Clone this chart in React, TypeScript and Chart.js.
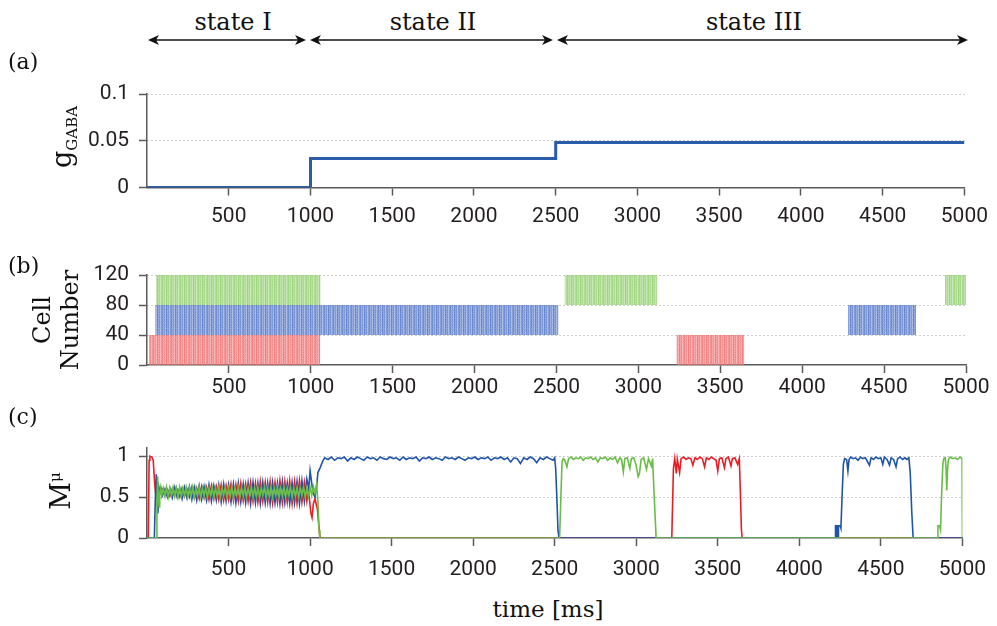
import React, { useEffect, useRef } from "react";
import { Chart, registerables } from "chart.js";

Chart.register(...registerables);

// ---------------- DATA ----------------
const xTicks = [500, 1000, 1500, 2000, 2500, 3000, 3500, 4000, 4500, 5000];
const gabaTicks = [0, 0.05, 0.1];
const cellTicks = [0, 40, 80, 120];
const mTicks = [0, 0.5, 1];

// (a) g_GABA step values
const gabaSteps: [number, number][] = [
  [0, 0], [1000, 0], [1000, 0.031], [2500, 0.031], [2500, 0.048], [5000, 0.048],
];

// (b) spike raster windows [start, end] ms per population, and cell index ranges
const redCells = [0, 40];
const blueCells = [40, 80];
const greenCells = [80, 120];
const redSpikeWindows: [number, number][] = [[12, 1058], [3232, 3646]];
const blueSpikeWindows: [number, number][] = [[50, 2512], [4280, 4695]];
const greenSpikeWindows: [number, number][] = [[55, 1060], [2549, 3116], [4872, 5000]];

// (c) M^mu order parameters [t, value]
const redM: [number, number][] = [
  [0, 0], [8, 0], [13, 0.95], [18, 1.0], [30, 0.99], [38, 0.95], [46, 0.7], [52, 0.55], [58, 0.72], [64, 0.6], [70, 0.52], [80, 0.6],
  [95, 0.6], [110, 0.52], [125, 0.59], [140, 0.51], [155, 0.6], [170, 0.52], [185, 0.59], [200, 0.5], [215, 0.61], [230, 0.51],
  [245, 0.6], [260, 0.5], [275, 0.62], [290, 0.49], [305, 0.61], [320, 0.48], [335, 0.63], [350, 0.49], [365, 0.62], [380, 0.47],
  [395, 0.64], [410, 0.48], [425, 0.63], [440, 0.47], [455, 0.65], [470, 0.46], [485, 0.64], [500, 0.47], [515, 0.66], [530, 0.46],
  [545, 0.65], [560, 0.45], [575, 0.67], [590, 0.46], [605, 0.66], [620, 0.45], [635, 0.68], [650, 0.45], [665, 0.67], [680, 0.44],
  [695, 0.69], [710, 0.45], [725, 0.68], [740, 0.44], [755, 0.69], [770, 0.43], [785, 0.68], [800, 0.44], [815, 0.7], [830, 0.43],
  [845, 0.69], [860, 0.44], [875, 0.7], [890, 0.42], [905, 0.69], [920, 0.43], [935, 0.7], [950, 0.44], [965, 0.68], [980, 0.45],
  [990, 0.6], [1005, 0.3], [1012, 0.25], [1020, 0.42], [1030, 0.48], [1045, 0.35], [1058, 0.05], [1064, 0],
  [3218, 0], [3228, 0.85], [3236, 0.97], [3246, 0.79], [3252, 0.96], [3266, 0.8], [3275, 0.97], [3290, 0.99], [3305, 0.96],
  [3320, 0.98], [3335, 0.97], [3347, 0.89], [3360, 0.98], [3375, 0.96], [3390, 0.99], [3405, 0.97], [3419, 0.87], [3430, 0.98],
  [3445, 0.96], [3460, 0.99], [3475, 0.97], [3490, 0.95], [3500, 0.82], [3510, 0.97], [3525, 0.98], [3541, 0.86], [3550, 0.97],
  [3565, 0.99], [3581, 0.88], [3590, 0.97], [3605, 0.98], [3622, 0.9], [3632, 0.97], [3638, 0.6], [3645, 0.1], [3650, 0], [5000, 0],
];

const blueM: [number, number][] = [
  [0, 0], [45, 0], [52, 0.55], [57, 0.78], [62, 0.5], [67, 0.3], [73, 0.62], [80, 0.55], [88, 0.6],
  [95, 0.52], [110, 0.6], [125, 0.5], [140, 0.61], [155, 0.49], [170, 0.62], [185, 0.5], [200, 0.61], [215, 0.48], [230, 0.62],
  [245, 0.49], [260, 0.63], [275, 0.47], [290, 0.62], [305, 0.46], [320, 0.64], [335, 0.47], [350, 0.63], [365, 0.46], [380, 0.65],
  [395, 0.45], [410, 0.64], [425, 0.46], [440, 0.65], [455, 0.44], [470, 0.66], [485, 0.45], [500, 0.65], [515, 0.44], [530, 0.66],
  [545, 0.43], [560, 0.67], [575, 0.44], [590, 0.66], [605, 0.43], [620, 0.67], [635, 0.42], [650, 0.68], [665, 0.43], [680, 0.67],
  [695, 0.42], [710, 0.68], [725, 0.43], [740, 0.67], [755, 0.42], [770, 0.68], [785, 0.43], [800, 0.67], [815, 0.42], [830, 0.69],
  [845, 0.43], [860, 0.67], [875, 0.42], [890, 0.68], [905, 0.43], [920, 0.69], [935, 0.42], [950, 0.7], [965, 0.45], [980, 0.72],
  [992, 0.6], [1000, 0.82], [1008, 0.7], [1018, 0.55], [1030, 0.5], [1040, 0.62], [1048, 0.8], [1060, 0.85], [1070, 0.9],
  [1080, 0.95], [1090, 0.98], [1110, 0.96], [1130, 0.99], [1150, 0.95], [1170, 0.98], [1190, 0.97], [1210, 0.99], [1230, 0.94],
  [1250, 0.98], [1270, 0.96], [1290, 0.99], [1310, 0.97], [1330, 0.95], [1350, 0.99], [1370, 0.97], [1390, 0.98], [1410, 0.95],
  [1430, 0.99], [1450, 0.97], [1470, 0.96], [1490, 0.99], [1510, 0.97], [1530, 0.98], [1550, 0.95], [1570, 0.99], [1590, 0.96],
  [1610, 0.98], [1630, 0.97], [1650, 0.99], [1670, 0.94], [1690, 0.98], [1710, 0.97], [1730, 0.99], [1750, 0.96], [1770, 0.98],
  [1790, 0.97], [1810, 0.95], [1830, 0.99], [1850, 0.97], [1870, 0.98], [1890, 0.96], [1910, 0.99], [1930, 0.97], [1950, 0.95],
  [1970, 0.98], [1990, 0.97], [2010, 0.99], [2030, 0.96], [2050, 0.98], [2070, 0.97], [2090, 0.99], [2110, 0.95], [2130, 0.98],
  [2150, 0.97], [2170, 0.99], [2190, 0.96], [2210, 0.98], [2230, 0.93], [2250, 0.98], [2270, 0.97], [2290, 0.91], [2310, 0.98],
  [2330, 0.96], [2350, 0.99], [2370, 0.97], [2390, 0.92], [2410, 0.98], [2430, 0.96], [2450, 0.99], [2470, 0.97], [2490, 0.95],
  [2500, 0.98], [2506, 0.85], [2513, 0.5], [2520, 0.1], [2526, 0],
  [4220, 0], [4222, 0.15], [4230, 0.15], [4232, 0], [4238, 0], [4240, 0.15], [4250, 0.15], [4255, 0.12], [4262, 0.5], [4270, 0.9],
  [4278, 0.97], [4290, 0.96], [4298, 0.82], [4305, 0.96], [4315, 0.99], [4330, 0.97], [4345, 0.98], [4360, 0.95], [4375, 0.99],
  [4390, 0.97], [4405, 0.98], [4430, 0.89], [4440, 0.98], [4455, 0.96], [4470, 0.99], [4485, 0.97], [4500, 0.98], [4512, 0.9],
  [4522, 0.99], [4538, 0.96], [4553, 0.89], [4563, 0.98], [4578, 0.96], [4593, 0.87], [4603, 0.97], [4618, 0.99], [4633, 0.96],
  [4648, 0.98], [4660, 0.96], [4672, 0.98], [4680, 0.8], [4690, 0.3], [4698, 0], [5000, 0],
];

const greenM: [number, number][] = [
  [0, 0], [56, 0], [61, 0.4], [65, 0.75], [69, 0.5], [74, 0.38], [78, 0.55], [84, 0.62], [90, 0.52],
  [100, 0.61], [110, 0.51], [120, 0.62], [130, 0.5], [140, 0.61], [150, 0.52], [160, 0.62], [170, 0.51], [180, 0.61], [190, 0.5],
  [200, 0.62], [210, 0.51], [220, 0.61], [230, 0.52], [240, 0.62], [250, 0.5], [260, 0.61], [270, 0.51], [280, 0.62], [290, 0.5],
  [300, 0.61], [310, 0.52], [320, 0.62], [330, 0.5], [340, 0.61], [350, 0.51], [360, 0.62], [370, 0.5], [380, 0.61], [390, 0.52],
  [400, 0.62], [410, 0.5], [420, 0.61], [430, 0.51], [440, 0.62], [450, 0.5], [460, 0.61], [470, 0.52], [480, 0.62], [490, 0.5],
  [500, 0.61], [510, 0.51], [520, 0.62], [530, 0.5], [540, 0.61], [550, 0.52], [560, 0.62], [570, 0.5], [580, 0.61], [590, 0.51],
  [600, 0.62], [610, 0.5], [620, 0.61], [630, 0.52], [640, 0.62], [650, 0.5], [660, 0.61], [670, 0.51], [680, 0.62], [690, 0.5],
  [700, 0.61], [710, 0.52], [720, 0.62], [730, 0.5], [740, 0.61], [750, 0.51], [760, 0.62], [770, 0.5], [780, 0.61], [790, 0.52],
  [800, 0.62], [810, 0.5], [820, 0.61], [830, 0.51], [840, 0.62], [850, 0.5], [860, 0.61], [870, 0.52], [880, 0.62], [890, 0.5],
  [900, 0.61], [910, 0.51], [920, 0.62], [930, 0.5], [940, 0.61], [950, 0.52], [960, 0.62], [970, 0.5], [980, 0.61], [990, 0.51],
  [1000, 0.62], [1010, 0.52], [1020, 0.63], [1030, 0.55], [1040, 0.66], [1048, 0.45], [1055, 0.1], [1060, 0],
  [2530, 0], [2538, 0.5], [2545, 0.93], [2552, 0.97], [2560, 0.96], [2575, 0.87], [2585, 0.97], [2600, 0.99], [2615, 0.96],
  [2630, 0.98], [2645, 0.97], [2660, 0.99], [2675, 0.95], [2690, 0.98], [2705, 0.97], [2720, 0.99], [2735, 0.96], [2750, 0.98],
  [2765, 0.93], [2780, 0.98], [2795, 0.97], [2810, 0.99], [2825, 0.95], [2840, 0.98], [2855, 0.96], [2870, 0.99], [2885, 0.92],
  [2900, 0.98], [2910, 0.96], [2921, 0.81], [2930, 0.97], [2945, 0.98], [2961, 0.85], [2970, 0.97], [2985, 0.98], [2998, 0.9],
  [3012, 0.75], [3020, 0.79], [3030, 0.96], [3045, 0.98], [3063, 0.84], [3075, 0.97], [3093, 0.88], [3100, 0.97], [3106, 0.7],
  [3115, 0.3], [3122, 0],
  [4848, 0], [4850, 0.15], [4860, 0.15], [4866, 0.1], [4872, 0.5], [4880, 0.9], [4886, 0.97], [4895, 0.98], [4900, 0.85],
  [4904, 0.58], [4908, 0.8], [4914, 0.96], [4925, 0.99], [4940, 0.97], [4955, 0.98], [4970, 0.96], [4985, 0.99], [4998, 0.97],
  [5000, 0],
];

// ---------------- STYLE ----------------
const AXIS = "#5a5a5a";
const TEXT = "#231f20";
const SANS = "Roboto, 'Noto Sans', sans-serif";
const SERIF = "'DejaVu Serif', serif";
const RED = "#ec1c24";
const BLUE = "#1f55a8";
const GREEN = "#69bc45";
const STRIPE_ALPHA = [
  [0.85, 0.6, 0.75, 0.5, 0.9, 0.65, 0.8, 0.45, 0.7],
  [0.8, 0.65, 0.7, 0.55, 0.85, 0.6, 0.75, 0.5, 0.75],
  [0.9, 0.55, 0.8, 0.45, 0.9, 0.7, 0.85, 0.55, 0.65],
  [0.75, 0.65, 0.7, 0.5, 0.8, 0.6, 0.7, 0.45, 0.8],
  [0.85, 0.6, 0.75, 0.55, 0.95, 0.65, 0.8, 0.5, 0.7],
];

function makePattern(rgb: string): CanvasPattern | string {
  const c = document.createElement("canvas");
  const w = STRIPE_ALPHA[0].length;
  const h = STRIPE_ALPHA.length;
  c.width = w;
  c.height = h;
  const g = c.getContext("2d");
  if (!g) return `rgba(${rgb},0.7)`;
  for (let j = 0; j < h; j++) {
    for (let i = 0; i < w; i++) {
      g.fillStyle = `rgba(${rgb},${STRIPE_ALPHA[j][i]})`;
      g.fillRect(i, j, 1, 1);
    }
  }
  return g.createPattern(c, "repeat") || `rgba(${rgb},0.7)`;
}

const toXY = (arr: [number, number][]) => arr.map(([x, y]) => ({ x, y }));

function xAxis(labelPad: number, axisHeight: number): any {
  return {
    type: "linear",
    min: 0,
    max: 5000,
    afterBuildTicks: (s: any) => {
      s.ticks = xTicks.map((v) => ({ value: v }));
    },
    afterFit: (s: any) => {
      s.height = axisHeight;
    },
    grid: {
      drawOnChartArea: false,
      drawTicks: true,
      tickLength: 8,
      tickColor: AXIS,
      tickWidth: 1.5,
      color: AXIS,
    },
    border: { display: true, color: AXIS, width: 1.5 },
    ticks: {
      color: TEXT,
      font: { family: SANS, size: 21 },
      padding: labelPad,
      maxRotation: 0,
      autoSkip: false,
      callback: (v: any) => String(v),
    },
  };
}

function yAxis(min: number, max: number, ticks: number[]): any {
  return {
    type: "linear",
    min,
    max,
    afterBuildTicks: (s: any) => {
      s.ticks = ticks.map((v) => ({ value: v }));
    },
    afterFit: (s: any) => {
      s.width = 147;
    },
    grid: {
      drawOnChartArea: true,
      drawTicks: true,
      color: (ctx: any) => (ctx.tick && ctx.tick.value === 0 ? "rgba(0,0,0,0)" : "#9a9a9a"),
      lineWidth: 1,
      tickLength: 8,
      tickColor: AXIS,
      tickWidth: 1.5,
      tickBorderDash: [],
    },
    border: { display: true, color: AXIS, width: 1.5, dash: [1, 3] },
    ticks: {
      color: TEXT,
      font: { family: SANS, size: 21 },
      padding: 10,
      callback: (v: any) => String(v),
    },
  };
}

function baseOptions(top: number, xPad: number, xHeight: number, yMin: number, yMax: number, yT: number[]): any {
  return {
    responsive: false,
    animation: false,
    devicePixelRatio: 1,
    layout: { padding: { top, right: 31, left: 0, bottom: 0 } },
    plugins: { legend: { display: false }, tooltip: { enabled: false } },
    elements: { point: { radius: 0 } },
    scales: { x: xAxis(xPad, xHeight), y: yAxis(yMin, yMax, yT) },
  };
}

function useChart(build: () => any) {
  const ref = useRef<HTMLCanvasElement | null>(null);
  useEffect(() => {
    if (!ref.current) return;
    const chart = new Chart(ref.current, build());
    return () => chart.destroy();
  }, []);
  return ref;
}

const abs = (left: number, top: number, extra: any = {}): any => ({ position: "absolute", left, top, ...extra });

export default function App() {
  const refA = useChart(() => ({
    type: "line",
    data: {
      datasets: [
        { data: toXY(gabaSteps), borderColor: "#2a5caa", borderWidth: 3, pointRadius: 0, fill: false, tension: 0 },
      ],
    },
    options: baseOptions(24, 9, 52.5, 0, 0.1, gabaTicks),
  }));

  const refB = useChart(() => {
    const groups: { wins: [number, number][]; cells: number[]; rgb: string }[] = [
      { wins: redSpikeWindows, cells: redCells, rgb: "240,110,110" },
      { wins: blueSpikeWindows, cells: blueCells, rgb: "85,120,200" },
      { wins: greenSpikeWindows, cells: greenCells, rgb: "145,208,110" },
    ];
    const datasets: any[] = [];
    groups.forEach((g) => {
      const pat = makePattern(g.rgb);
      g.wins.forEach(([a, b]) => {
        datasets.push({
          data: [
            { x: a, y: g.cells[1] },
            { x: b, y: g.cells[1] },
          ],
          borderWidth: 0,
          borderColor: "rgba(0,0,0,0)",
          backgroundColor: pat,
          fill: { value: g.cells[0] },
          pointRadius: 0,
        });
      });
    });
    return {
      type: "line",
      data: { datasets },
      options: baseOptions(25, 2, 45, 0, 120, cellTicks),
    };
  });

  const refC = useChart(() => ({
    type: "line",
    data: {
      datasets: [
        { data: toXY(greenM), borderColor: GREEN, borderWidth: 1.6, pointRadius: 0, fill: false, tension: 0 },
        { data: toXY(blueM), borderColor: BLUE, borderWidth: 1.6, pointRadius: 0, fill: false, tension: 0 },
        { data: toXY(redM), borderColor: RED, borderWidth: 1.6, pointRadius: 0, fill: false, tension: 0 },
      ],
    },
    options: baseOptions(23, 11, 57, 0, 1.1, mTicks),
  }));

  const serif = { fontFamily: SERIF, color: "#111", whiteSpace: "nowrap", lineHeight: 1 };
  const arrowY = 40;
  const arrows: [number, number][] = [
    [148, 306],
    [310, 553],
    [557, 968],
  ];

  return (
    <div style={{ position: "fixed", left: 0, top: 0, width: 997, height: 626, background: "#fff", overflow: "hidden" }}>
      <canvas ref={refA} width={997} height={170} style={abs(0, 70, { width: 997, height: 170 })} />
      <canvas ref={refB} width={997} height={160} style={abs(0, 250, { width: 997, height: 160 })} />
      <canvas ref={refC} width={997} height={170} style={abs(0, 425, { width: 997, height: 170 })} />

      <svg width={997} height={60} style={abs(0, 0)}>
        {arrows.map(([a, b], i) => (
          <g key={i}>
            <line x1={a + 4} y1={arrowY} x2={b - 4} y2={arrowY} stroke="#111" strokeWidth={1.3} />
            <path d={`M ${a} ${arrowY} L ${a + 11} ${arrowY - 5} L ${a + 8} ${arrowY} L ${a + 11} ${arrowY + 5} Z`} fill="#111" />
            <path d={`M ${b} ${arrowY} L ${b - 11} ${arrowY - 5} L ${b - 8} ${arrowY} L ${b - 11} ${arrowY + 5} Z`} fill="#111" />
          </g>
        ))}
      </svg>

      <div style={abs(233, 10, { ...serif, fontSize: 24, transform: "translateX(-50%)" })}>state I</div>
      <div style={abs(433, 10, { ...serif, fontSize: 24, transform: "translateX(-50%)" })}>state II</div>
      <div style={abs(754, 10, { ...serif, fontSize: 24, transform: "translateX(-50%)" })}>state III</div>

      <div style={abs(8, 51, { ...serif, fontSize: 22 })}>(a)</div>
      <div style={abs(8, 255, { ...serif, fontSize: 22 })}>(b)</div>
      <div style={abs(8, 406, { ...serif, fontSize: 22 })}>(c)</div>

      <div style={abs(61, 137, { ...serif, fontSize: 27, transform: "translate(-50%,-50%) rotate(-90deg)" })}>
        g<span style={{ fontSize: 15, position: "relative", top: 6 }}>GABA</span>
      </div>
      <div
        style={abs(56, 320, {
          ...serif,
          fontSize: 24,
          lineHeight: "28px",
          textAlign: "center",
          transform: "translate(-50%,-50%) rotate(-90deg)",
        })}
      >
        Cell
        <br />
        Number
      </div>
      <div style={abs(60, 491, { ...serif, fontSize: 27, transform: "translate(-50%,-50%) rotate(-90deg)" })}>
        M<span style={{ fontSize: 15, position: "relative", top: -10 }}>μ</span>
      </div>

      <div style={abs(548, 598, { ...serif, fontSize: 23, transform: "translateX(-50%)" })}>time [ms]</div>
    </div>
  );
}
